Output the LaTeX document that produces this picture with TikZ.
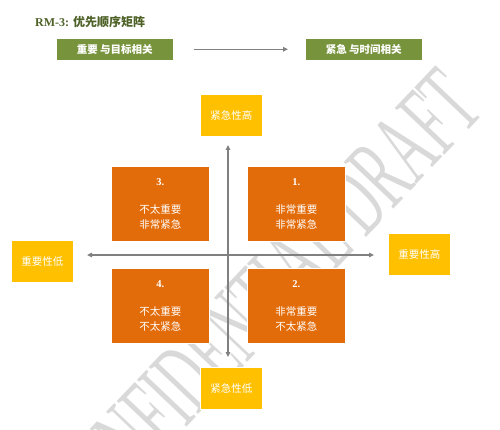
\documentclass[tikz,border=0pt]{standalone}
\usepackage{fontspec}
\usepackage{graphicx}
\setmainfont{Liberation Serif}
\newfontfamily\cjk{Noto Sans CJK SC}
\usetikzlibrary{arrows.meta}
\definecolor{titlegreen}{HTML}{4F6228}
\definecolor{boxgreen}{HTML}{77933C}
\definecolor{boxorange}{HTML}{E36C0A}
\definecolor{boxyellow}{HTML}{FFC000}
\definecolor{axisgray}{HTML}{808080}
\definecolor{wmgray}{HTML}{D9D9D9}
\tikzset{
  greenbox/.style={fill=boxgreen, draw=white, line width=0.6pt, text=white, anchor=north west,
    minimum width=117, minimum height=22, inner sep=0pt, font=\cjk\bfseries\fontsize{10.5}{12}\selectfont},
  quadbox/.style={fill=boxorange, draw=white, line width=0.6pt, text=white, anchor=north west,
    minimum width=98, minimum height=75, inner sep=0pt, align=center,
    font=\cjk\fontsize{10.5}{15}\selectfont},
  endbox/.style={fill=boxyellow, draw=white, line width=0.6pt, text=white, anchor=north west,
    minimum width=62, minimum height=42, inner sep=0pt, font=\cjk\fontsize{10.5}{12}\selectfont},
  axisline/.style={draw=axisgray, line width=1.3pt, {Triangle[length=5pt,width=4.5pt]}-{Triangle[length=5pt,width=4.5pt]}},
  flowline/.style={draw=axisgray, line width=1.3pt, -{Triangle[length=5pt,width=4.5pt]}},
}
\newcommand{\qnum}[1]{{\fontspec{Liberation Serif}\bfseries #1}}
\begin{document}
\begin{tikzpicture}[x=1pt,y=-1pt]
\useasboundingbox (0,0) rectangle (500,430);
\fill[white] (0,0) rectangle (500,430);
% watermark
\begin{scope}
\clip (0,0) rectangle (500,430);
\node[anchor=base east, rotate=46.5, text=wmgray, inner sep=0pt] (wm) at (486.2,111.5)
  {\scalebox{0.512}[1]{\fontsize{104}{104}\selectfont CONFIDENTIAL DRAFT}};
\end{scope}
% title
\node[anchor=west, text=titlegreen, inner sep=0pt] (title) at (35,22)
  {\fontsize{12}{14}\selectfont\bfseries RM-3: {\cjk\bfseries 优先顺序矩阵}};
% header boxes
\node[greenbox] (imp) at (56,38) {重要 与目标相关};
\node[greenbox] (urg) at (305,38) {紧急 与时间相关};
\draw[flowline, shorten <=20pt, shorten >=17pt] (imp.east) -- (urg.west);
% end boxes
\node[endbox] (uhi) at (200,94) {紧急性高};
\node[endbox] (ulo) at (200,367) {紧急性低};
\node[endbox] (ilo) at (11,240) {重要性低};
\node[endbox] (ihi) at (388,233) {重要性高};
% axes
\coordinate (vtop) at (228,145);
\coordinate (vbot) at (228,357);
\coordinate (hleft) at (87,255);
\coordinate (hright) at (374,255);
\draw[axisline] (vtop) -- (vbot);
\draw[axisline] (hleft) -- (hright);
% quadrants
\node[quadbox] (q3) at (111,166) {\qnum{3.}\\[13pt] 不太重要\\ 非常紧急};
\node[quadbox] (q1) at (247,166) {\qnum{1.}\\[13pt] 非常重要\\ 非常紧急};
\node[quadbox] (q4) at (111,268) {\qnum{4.}\\[13pt] 不太重要\\ 不太紧急};
\node[quadbox] (q2) at (247,268) {\qnum{2.}\\[13pt] 非常重要\\ 不太紧急};
\end{tikzpicture}
\end{document}
